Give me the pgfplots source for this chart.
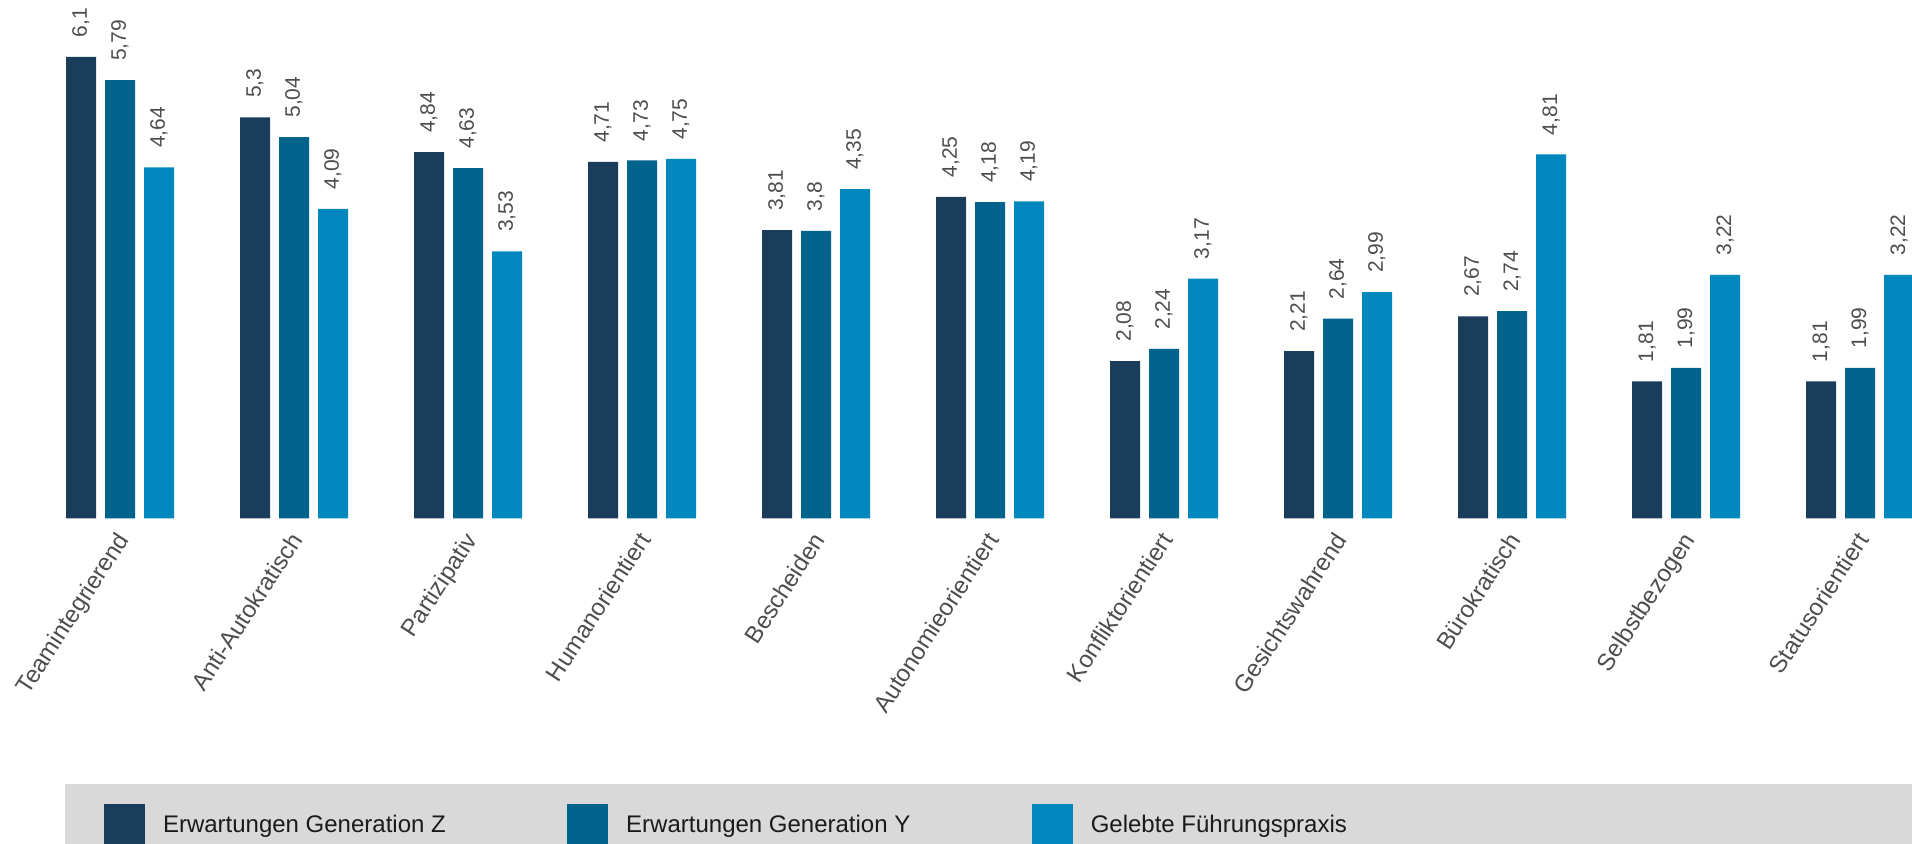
\documentclass[border=0pt]{standalone}
\usepackage{fontspec}
\setmainfont{Liberation Sans}
\usepackage{pgfplots}
\pgfplotsset{compat=1.18}
\definecolor{cz}{HTML}{193D5B}
\definecolor{cy}{HTML}{00638C}
\definecolor{cp}{HTML}{0087BE}
\definecolor{lg}{HTML}{D9D9D9}
\definecolor{txt}{HTML}{4D4D4D}
\definecolor{legtxt}{HTML}{1A1A1A}
\pgfplotsset{sqlegend/.style={legend image code/.code={\fill[##1] (0pt,-10.25pt) rectangle (20.5pt,10.25pt);}}}
\begin{document}
\begin{tikzpicture}
\fill[lg] (32.5pt,-132.75pt) rectangle (960pt,-170pt);
\begin{axis}[
  at={(0,0)}, anchor=south west,
  scale only axis, width=956pt, height=259.25pt,
  xmin=-0.68966, xmax=10.2989, ymin=0, ymax=6.85,
  enlargelimits=false,
  ybar=4.5pt, bar width=15pt,
  axis line style={draw=none},
  major tick style={draw=none},
  ytick=\empty,
  xtick={0,1,2,3,4,5,6,7,8,9,10},
  xticklabels={Teamintegrierend, Anti-Autokratisch, Partizipativ, Humanorientiert, Bescheiden, Autonomieorientiert, Konfliktorientiert, Gesichtswahrend, Bürokratisch, Selbstbezogen, Statusorientiert},
  xticklabel style={xshift=-2.5pt, yshift=-1.5pt, rotate=57, anchor=north east, inner sep=0pt, font=\fontsize{12}{14}\selectfont, text=txt},
  nodes near coords,
  every node near coord/.append style={rotate=90, anchor=west, inner xsep=9.5pt, inner ysep=0pt, font=\fontsize{10.5}{12}\selectfont, text=txt},
  /pgf/number format/use comma,
  /pgf/number format/assume math mode=true,
  legend columns=3,
  legend cell align=left,
  legend style={draw=none, fill=none, inner sep=0pt, outer sep=0pt,
    at={(0.05439,-0.59113)}, anchor=west,
    font=\fontsize{12}{14}\selectfont, text=legtxt,
    nodes={inner sep=0pt},
    /tikz/every odd column/.append style={column sep=9pt},
    /tikz/every even column/.append style={column sep=60.7pt}},
]
\addplot[fill=cz, draw=none, sqlegend] coordinates {
(0,6.1) (1,5.3) (2,4.84) (3,4.71) (4,3.81) (5,4.25) (6,2.08) (7,2.21) (8,2.67) (9,1.81) (10,1.81)};
\addlegendentry{Erwartungen Generation Z}
\addplot[fill=cy, draw=none, sqlegend] coordinates {
(0,5.79) (1,5.04) (2,4.63) (3,4.73) (4,3.8) (5,4.18) (6,2.24) (7,2.64) (8,2.74) (9,1.99) (10,1.99)};
\addlegendentry{Erwartungen Generation Y}
\addplot[fill=cp, draw=none, sqlegend] coordinates {
(0,4.64) (1,4.09) (2,3.53) (3,4.75) (4,4.35) (5,4.19) (6,3.17) (7,2.99) (8,4.81) (9,3.22) (10,3.22)};
\addlegendentry{Gelebte Führungspraxis}
\end{axis}
\pgfresetboundingbox
\path[use as bounding box] (0,-162.75pt) rectangle (956pt,259.25pt);
\end{tikzpicture}
\end{document}
